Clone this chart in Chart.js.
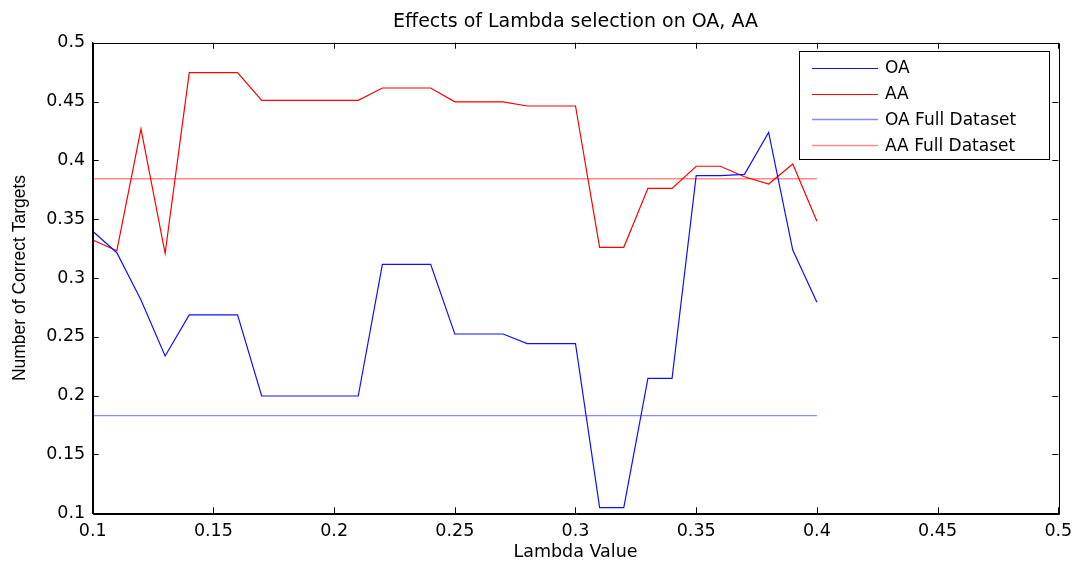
<!DOCTYPE html>
<html>
<head>
<meta charset="utf-8">
<script src="https://cdn.jsdelivr.net/npm/chart.js@4/dist/chart.umd.min.js"></script>
<style>
html,body{margin:0;padding:0;background:#fff;}
canvas{display:block;}
</style>
</head>
<body>
<canvas id="c" width="1075" height="561"></canvas>
<script>
const lambdas = [0.10,0.11,0.12,0.13,0.14,0.15,0.16,0.17,0.18,0.19,0.20,0.21,0.22,0.23,0.24,0.25,0.26,0.27,0.28,0.29,0.30,0.31,0.32,0.33,0.34,0.35,0.36,0.37,0.38,0.39,0.40];
const oaValues = [0.3397,0.3215,0.2813,0.2337,0.2686,0.2686,0.2686,0.1997,0.1997,0.1997,0.1997,0.1997,0.3116,0.3116,0.3116,0.2524,0.2524,0.2524,0.2442,0.2442,0.2442,0.1048,0.1048,0.2147,0.2147,0.3870,0.3871,0.3881,0.4238,0.3238,0.2793];
const aaValues = [0.3323,0.3232,0.4267,0.3210,0.4745,0.4745,0.4745,0.4510,0.4510,0.4510,0.4510,0.4510,0.4615,0.4615,0.4615,0.4497,0.4497,0.4497,0.4462,0.4462,0.4462,0.3261,0.3261,0.3762,0.3762,0.3950,0.3950,0.3861,0.3799,0.3969,0.3482];
const oaFull = 0.1830;
const aaFull = 0.3844;
const seriesNames = ['OA','AA','OA Full Dataset','AA Full Dataset'];
const xTicks = [0.1,0.15,0.2,0.25,0.3,0.35,0.4,0.45,0.5];
const yTicks = [0.1,0.15,0.2,0.25,0.3,0.35,0.4,0.45,0.5];

const pts = (xs, ys) => xs.map((x,i)=>({x:x,y:ys[i]}));
const flat = (v) => [{x:lambdas[0],y:v},{x:lambdas[lambdas.length-1],y:v}];

const HFONT = "'DejaVu Sans', sans-serif";

const boxTicks = {
  id:'boxTicks',
  afterDatasetsDraw(chart){
    const {ctx, chartArea:a, scales:{x,y}} = chart;
    ctx.save();
    ctx.strokeStyle = '#000';
    ctx.lineWidth = 1;
    ctx.beginPath();
    ctx.rect(Math.round(a.left)+0.5, Math.round(a.top)+0.5, Math.round(a.right-a.left), Math.round(a.bottom-a.top));
    ctx.stroke();
    const L = 6;
    ctx.beginPath();
    xTicks.forEach(v=>{
      const px = Math.round(x.getPixelForValue(v))+0.5;
      ctx.moveTo(px,a.bottom); ctx.lineTo(px,a.bottom-L);
      ctx.moveTo(px,a.top); ctx.lineTo(px,a.top+L);
    });
    yTicks.forEach(v=>{
      const py = Math.round(y.getPixelForValue(v))+0.5;
      ctx.moveTo(a.left,py); ctx.lineTo(a.left+L,py);
      ctx.moveTo(a.right,py); ctx.lineTo(a.right-L,py);
    });
    ctx.stroke();
    // legend
    const lx0 = 799, ly0 = 51, lw = 250, lh = 108;
    ctx.fillStyle = '#fff';
    ctx.fillRect(lx0, ly0, lw, lh);
    ctx.strokeStyle = '#000';
    ctx.lineWidth = 1;
    ctx.strokeRect(lx0+0.5, ly0+0.5, lw, lh);
    ctx.font = '17px ' + HFONT;
    ctx.textBaseline = 'middle';
    ctx.textAlign = 'left';
    chart.data.datasets.forEach((ds,i)=>{
      const yy = ly0 + 17 + i*25.7;
      ctx.strokeStyle = ds.borderColor;
      ctx.lineWidth = ds.borderWidth;
      ctx.beginPath();
      ctx.moveTo(lx0+13, Math.round(yy)+0.5); ctx.lineTo(lx0+79, Math.round(yy)+0.5);
      ctx.stroke();
      ctx.fillStyle = '#000';
      ctx.fillText(ds.label, lx0+86, yy+1);
    });
    ctx.restore();
  }
};

new Chart(document.getElementById('c'), {
  type:'line',
  data:{
    datasets:[
      {label:seriesNames[0], data:pts(lambdas,oaValues), borderColor:'#1010ff', borderWidth:1.2},
      {label:seriesNames[1], data:pts(lambdas,aaValues), borderColor:'#ff0000', borderWidth:1.2},
      {label:seriesNames[2], data:flat(oaFull), borderColor:'rgba(60,60,255,0.6)', borderWidth:1.4},
      {label:seriesNames[3], data:flat(aaFull), borderColor:'rgba(255,60,60,0.6)', borderWidth:1.4}
    ]
  },
  options:{
    responsive:false,
    animation:false,
    elements:{point:{radius:0,hoverRadius:0},line:{tension:0,fill:false}},
    layout:{padding:{left:0,right:16.7,top:0,bottom:0}},
    plugins:{
      legend:{display:false},
      tooltip:{enabled:false},
      title:{
        display:true,
        text:'Effects of Lambda selection on OA, AA',
        color:'#000',
        fullSize:false,
        font:{family:HFONT, size:19, weight:'normal', lineHeight:1},
        padding:{top:13,bottom:10.7}
      }
    },
    scales:{
      x:{
        type:'linear', min:0.1, max:0.5,
        afterBuildTicks(s){ s.ticks = xTicks.map(v=>({value:v})); },
        afterFit(s){ s.height = 47.7; s.paddingLeft = 0; s.paddingRight = 0; },
        grid:{display:false, drawTicks:false},
        border:{display:true,color:'#000',width:1},
        ticks:{color:'#000', padding:8, maxRotation:0, autoSkip:false,
          font:{family:HFONT,size:17.5},
          callback:(v)=>String(Number(v.toFixed(2)))},
        title:{display:true,text:'Lambda Value',color:'#000',
          font:{family:HFONT,size:17.5,lineHeight:1},padding:{top:0,bottom:0}}
      },
      y:{
        type:'linear', min:0.1, max:0.5,
        afterBuildTicks(s){ s.ticks = yTicks.map(v=>({value:v})); },
        afterFit(s){ s.width = 92.7; s.paddingTop = 0; s.paddingBottom = 0; },
        grid:{display:false, drawTicks:false},
        border:{display:true,color:'#000',width:1},
        ticks:{color:'#000', padding:7.5, autoSkip:false,
          font:{family:HFONT,size:17.5},
          callback:(v)=>String(Number(v.toFixed(2)))},
        title:{display:true,text:'Number of Correct Targets',color:'#000',
          font:{family:"'Liberation Sans', Arial, sans-serif",size:17.5,lineHeight:1},padding:{top:11,bottom:0}}
      }
    }
  },
  plugins:[boxTicks]
});
</script>
</body>
</html>
